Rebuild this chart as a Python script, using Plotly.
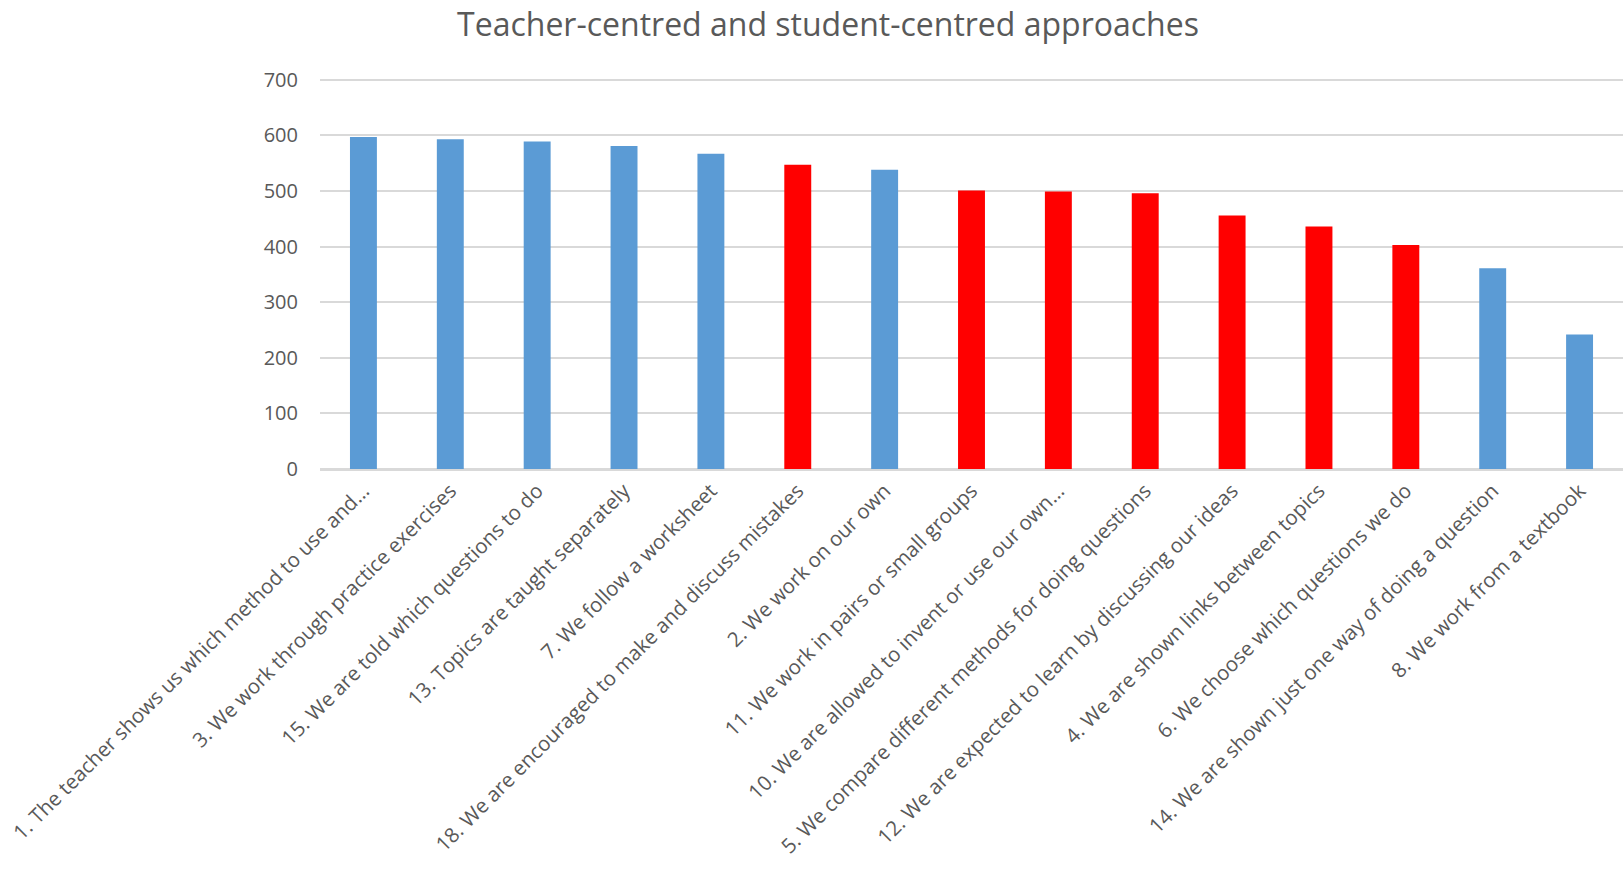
import plotly.graph_objects as go

categories = [
    "1. The teacher shows us which method to use and...",
    "3. We work through practice exercises",
    "15. We are told which questions to do",
    "13. Topics are taught separately",
    "7. We follow a worksheet",
    "18. We are encouraged to make and discuss mistakes",
    "2. We work on our own",
    "11. We work in pairs or small groups",
    "10. We are allowed to invent or use our own...",
    "5. We compare different methods for doing questions",
    "12. We are expected to learn by discussing our ideas",
    "4. We are shown links between topics",
    "6. We choose which questions we do",
    "14. We are shown just one way of doing a question",
    "8. We work from a textbook",
]
values = [597, 593, 589, 581, 567, 547, 538, 501, 499, 496, 456, 436, 403, 361, 242]
approach = ["teacher", "teacher", "teacher", "teacher", "teacher", "student", "teacher",
            "student", "student", "student", "student", "student", "student", "teacher", "teacher"]

color_map = {"teacher": "#5B9BD5", "student": "#FF0000"}
colors = [color_map[a] for a in approach]

fig = go.Figure(go.Bar(x=categories, y=values, marker=dict(color=colors, line=dict(width=0)),
                       showlegend=False))

fig.update_layout(
    width=1623, height=879,
    margin=dict(l=320, r=0, t=77, b=410),
    paper_bgcolor="white", plot_bgcolor="white",
    bargap=0.69,
    font=dict(family="Open Sans", color="#595959", size=19),
    title=dict(text="Teacher-centred and student-centred approaches",
               x=828 / 1623, xanchor="center", xref="container", yref="container", y=1 - 25 / 879,
               yanchor="middle", font=dict(size=32, color="#595959", family="Open Sans")),
)
fig.update_xaxes(tickangle=-45, showgrid=False, showline=True, linecolor="#D9D9D9", linewidth=1.5,
                 tickfont=dict(size=20.5, color="#595959"), automargin=False)
fig.update_yaxes(range=[0, 705], tickvals=[0, 100, 200, 300, 400, 500, 600, 700],
                 showgrid=True, gridcolor="#D9D9D9", gridwidth=1.5,
                 zeroline=True, zerolinecolor="#D9D9D9", zerolinewidth=1.5, showline=False,
                 tickfont=dict(size=20, color="#595959"), ticklabelstandoff=21, automargin=False)

fig.write_html("out.html")
